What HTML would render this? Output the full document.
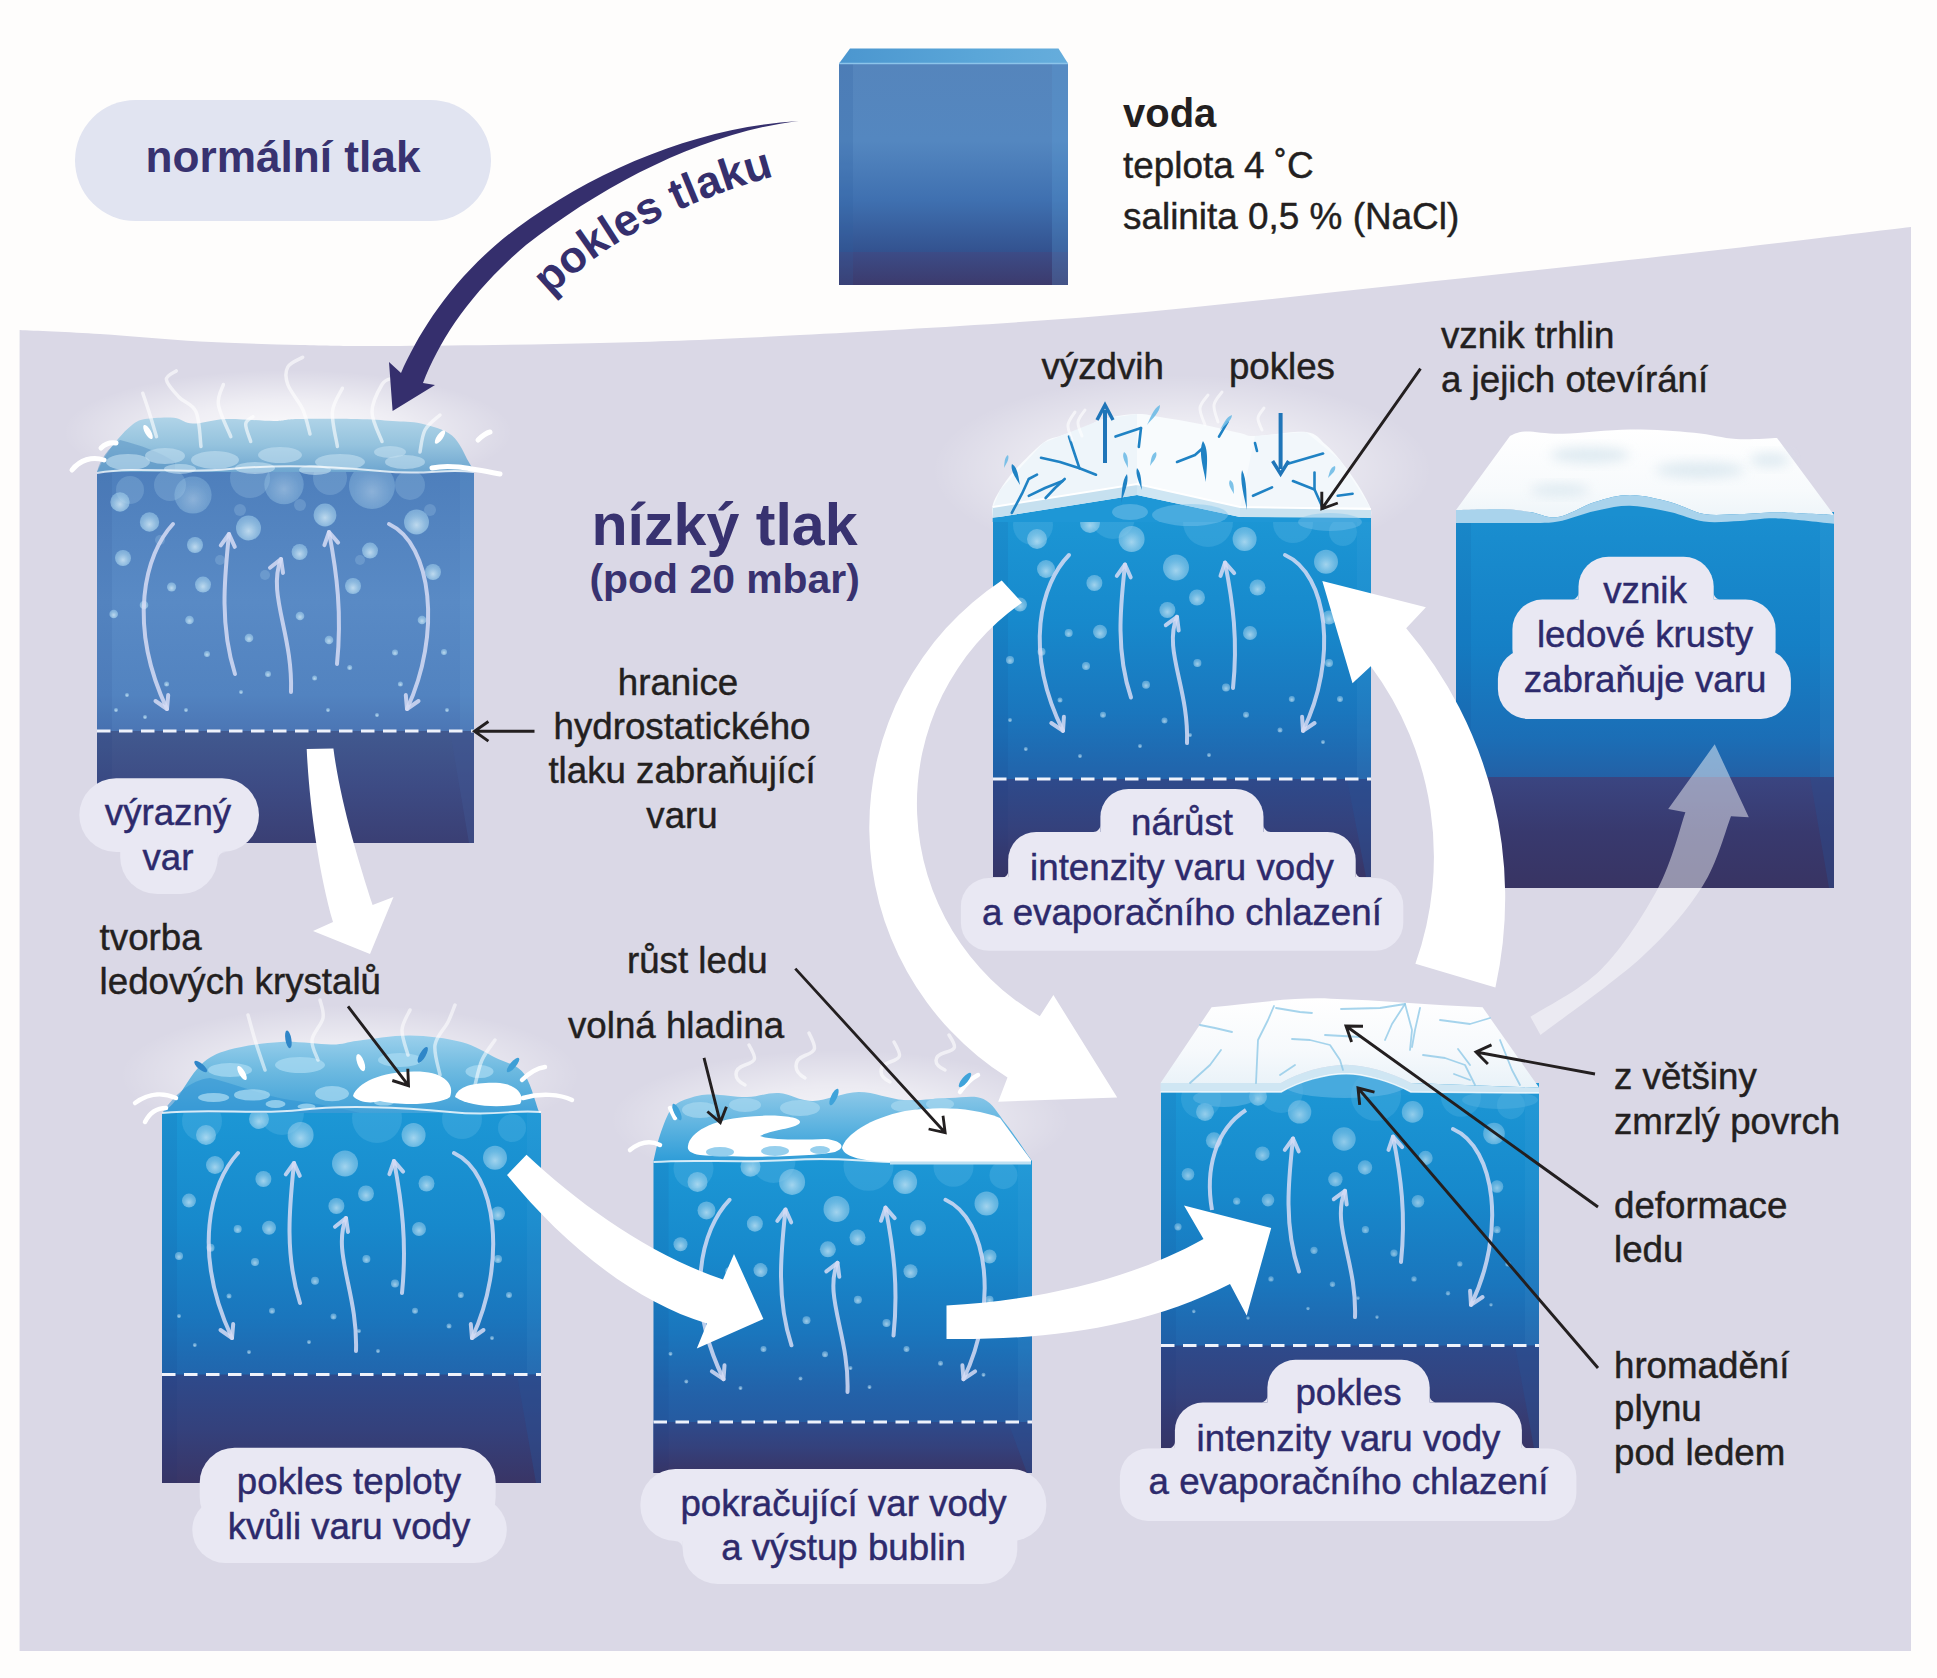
<!DOCTYPE html>
<html><head><meta charset="utf-8"><title>voda</title>
<style>html,body{margin:0;padding:0;background:#fefdfc;width:1937px;height:1678px;overflow:hidden}svg{display:block;font-family:"Liberation Sans",sans-serif}</style>
</head><body>
<svg width="1937" height="1678" viewBox="0 0 1937 1678" font-family="Liberation Sans"><defs><radialGradient id="bub" cx="0.5" cy="0.62" r="0.55"><stop offset="0" stop-color="#d8eef9" stop-opacity="0.85"/><stop offset="0.7" stop-color="#b5def3" stop-opacity="0.6"/><stop offset="1" stop-color="#a9d6f0" stop-opacity="0.55"/></radialGradient><radialGradient id="glow" cx="0.5" cy="0.5" r="0.5"><stop offset="0" stop-color="#ffffff" stop-opacity="0.95"/><stop offset="0.5" stop-color="#ffffff" stop-opacity="0.6"/><stop offset="1" stop-color="#ffffff" stop-opacity="0"/></radialGradient><linearGradient id="vodaF" x1="0" y1="0" x2="0" y2="1"><stop offset="0" stop-color="#5585bc"/><stop offset="0.35" stop-color="#5487c0"/><stop offset="0.62" stop-color="#3f70b0"/><stop offset="0.85" stop-color="#33528f"/><stop offset="1" stop-color="#3a3f74"/></linearGradient><linearGradient id="vodaB" x1="0" y1="0" x2="0" y2="1"><stop offset="0" stop-color="#3d4b86"/><stop offset="1" stop-color="#3c3a6c"/></linearGradient><linearGradient id="vodaT" x1="0" y1="0" x2="1" y2="0"><stop offset="0" stop-color="#4b96cf"/><stop offset="0.6" stop-color="#5aa6d8"/><stop offset="1" stop-color="#66addc"/></linearGradient><linearGradient id="c1F" x1="0" y1="0" x2="0" y2="1"><stop offset="0" stop-color="#4e7fbc"/><stop offset="0.35" stop-color="#598ac5"/><stop offset="0.6" stop-color="#5283c0"/><stop offset="0.72" stop-color="#4a73b2"/><stop offset="1" stop-color="#405792"/></linearGradient><linearGradient id="c1B" x1="0" y1="0" x2="0" y2="1"><stop offset="0" stop-color="#41598f"/><stop offset="0.5" stop-color="#3d4b84"/><stop offset="1" stop-color="#3a3f74"/></linearGradient><linearGradient id="surf1" x1="0" y1="0" x2="0" y2="1"><stop offset="0" stop-color="#b0d4e8"/><stop offset="0.5" stop-color="#95c3de"/><stop offset="1" stop-color="#6ea6d0"/></linearGradient><linearGradient id="c3F" x1="0" y1="0" x2="0" y2="1"><stop offset="0" stop-color="#1c97d5"/><stop offset="0.3" stop-color="#1789cc"/><stop offset="0.55" stop-color="#1a76bd"/><stop offset="0.75" stop-color="#2361a8"/><stop offset="1" stop-color="#2b4f93"/></linearGradient><linearGradient id="c3B" x1="0" y1="0" x2="0" y2="1"><stop offset="0" stop-color="#2e4a8b"/><stop offset="0.5" stop-color="#34417c"/><stop offset="1" stop-color="#393566"/></linearGradient><linearGradient id="c4F" x1="0" y1="0" x2="0" y2="1"><stop offset="0" stop-color="#1a8fd0"/><stop offset="0.35" stop-color="#1580c6"/><stop offset="0.6" stop-color="#1b6eb6"/><stop offset="0.8" stop-color="#2a5598"/><stop offset="1" stop-color="#2c4b8c"/></linearGradient><linearGradient id="c4B" x1="0" y1="0" x2="0" y2="1"><stop offset="0" stop-color="#3a4581"/><stop offset="0.5" stop-color="#38396e"/><stop offset="1" stop-color="#383463"/></linearGradient><linearGradient id="ice4g" x1="0" y1="0" x2="0" y2="1"><stop offset="0" stop-color="#ffffff"/><stop offset="0.7" stop-color="#f7fafc"/><stop offset="1" stop-color="#eef5f9"/></linearGradient><filter id="blur6" x="-50%" y="-50%" width="200%" height="200%"><feGaussianBlur stdDeviation="6"/></filter><linearGradient id="c5F" x1="0" y1="0" x2="0" y2="1"><stop offset="0" stop-color="#1c97d5"/><stop offset="0.3" stop-color="#1789cc"/><stop offset="0.55" stop-color="#1a76bd"/><stop offset="0.75" stop-color="#2361a8"/><stop offset="1" stop-color="#2b4f93"/></linearGradient><linearGradient id="c5B" x1="0" y1="0" x2="0" y2="1"><stop offset="0" stop-color="#2e4a8b"/><stop offset="0.5" stop-color="#34417c"/><stop offset="1" stop-color="#393566"/></linearGradient><linearGradient id="surf5" x1="0" y1="0" x2="0" y2="1"><stop offset="0" stop-color="#9bd0ec"/><stop offset="0.45" stop-color="#6cb9e0"/><stop offset="1" stop-color="#3fa0d8"/></linearGradient><linearGradient id="c6F" x1="0" y1="0" x2="0" y2="1"><stop offset="0" stop-color="#1c97d5"/><stop offset="0.3" stop-color="#1789cc"/><stop offset="0.55" stop-color="#1a76bd"/><stop offset="0.75" stop-color="#2361a8"/><stop offset="1" stop-color="#2b4f93"/></linearGradient><linearGradient id="c6B" x1="0" y1="0" x2="0" y2="1"><stop offset="0" stop-color="#2e4a8b"/><stop offset="0.5" stop-color="#34417c"/><stop offset="1" stop-color="#393566"/></linearGradient><linearGradient id="surf6" x1="0" y1="0" x2="0" y2="1"><stop offset="0" stop-color="#8cc8e8"/><stop offset="0.5" stop-color="#5db3e0"/><stop offset="1" stop-color="#2f9dd8"/></linearGradient><linearGradient id="c7F" x1="0" y1="0" x2="0" y2="1"><stop offset="0" stop-color="#1c97d5"/><stop offset="0.3" stop-color="#1789cc"/><stop offset="0.55" stop-color="#1a76bd"/><stop offset="0.75" stop-color="#2361a8"/><stop offset="1" stop-color="#2b4f93"/></linearGradient><linearGradient id="c7B" x1="0" y1="0" x2="0" y2="1"><stop offset="0" stop-color="#2e4a8b"/><stop offset="0.5" stop-color="#34417c"/><stop offset="1" stop-color="#393566"/></linearGradient><linearGradient id="ice7g" x1="0" y1="0" x2="0" y2="1"><stop offset="0" stop-color="#ffffff"/><stop offset="0.6" stop-color="#f6f9fc"/><stop offset="1" stop-color="#e9f2f8"/></linearGradient></defs><rect x="0" y="0" width="1937" height="1678" fill="#fefdfc"/>
<path d="M19.6,330 C33,330.7 69.9,332.1 100,334 C130.1,335.9 166.7,339.7 200,341.5 C233.3,343.3 266.7,344.2 300,345 C333.3,345.8 350,346.3 400,346 C450,345.7 533.3,344.8 600,343 C666.7,341.2 716.7,339.5 800,335 C883.3,330.5 1000,324.3 1100,316 C1200,307.7 1300,295.7 1400,285 C1500,274.3 1614.8,261.7 1700,252 C1785.2,242.3 1875.8,231.2 1911,227 L1911,1651 L19.6,1651 Z" fill="#dad8e6"/>
<rect x="75" y="100" width="416" height="121" rx="60.5" fill="#e1e4f1"/>
<text x="283" y="172" font-size="44.2" fill="#383270" text-anchor="middle" font-weight="bold">normální tlak</text>
<rect x="839" y="63" width="229" height="222" fill="url(#vodaF)"/>
<rect x="839" y="252" width="229" height="33" fill="url(#vodaB)" opacity="0.9"/>
<rect x="1052" y="63" width="16" height="222" fill="#5aa0d6" opacity="0.25"/>
<rect x="839" y="63" width="14" height="222" fill="#2f5f9f" opacity="0.2"/>
<path d="M850,48.5 L1058.5,48.5 L1068,63.5 L839,63.5 Z" fill="url(#vodaT)"/>
<line x1="839" y1="63.5" x2="1068" y2="63.5" stroke="#8cc4ea" stroke-width="1.5"/>
<text x="1123" y="127" font-size="40" fill="#231f20" text-anchor="start" font-weight="bold">voda</text>
<text x="1123" y="178" font-size="36.9" fill="#231f20" text-anchor="start" stroke="#231f20" stroke-width="0.45">teplota 4 ˚C</text>
<text x="1123" y="229" font-size="36.9" fill="#231f20" text-anchor="start" stroke="#231f20" stroke-width="0.45">salinita 0,5 % (NaCl)</text>
<ellipse cx="288" cy="432" rx="225" ry="62" fill="url(#glow)" opacity="0.95"/>
<rect x="97" y="472" width="377" height="371" fill="url(#c1F)"/>
<rect x="97" y="731" width="377" height="112" fill="url(#c1B)"/>
<rect x="97" y="472" width="15" height="371" fill="#0a2a70" opacity="0.07"/>
<rect x="460" y="472" width="14" height="259" fill="#7cc3f0" opacity="0.07"/>
<path d="M450,731 L474,731 L474,843 L469,843 Z" fill="#405792" opacity="0.45"/>
<circle cx="130" cy="490" r="14" fill="#b8daf0" opacity="0.22"/>
<circle cx="170" cy="485" r="16" fill="#b8daf0" opacity="0.22"/>
<circle cx="250" cy="478" r="20" fill="#b8daf0" opacity="0.22"/>
<circle cx="330" cy="478" r="17" fill="#b8daf0" opacity="0.22"/>
<circle cx="410" cy="485" r="15" fill="#b8daf0" opacity="0.22"/>
<circle cx="240" cy="510" r="6" fill="#b8daf0" opacity="0.22"/>
<circle cx="300" cy="505" r="6" fill="#b8daf0" opacity="0.22"/>
<circle cx="430" cy="510" r="6" fill="#b8daf0" opacity="0.22"/>
<circle cx="160" cy="540" r="5" fill="#b8daf0" opacity="0.22"/>
<circle cx="220" cy="560" r="5" fill="#b8daf0" opacity="0.22"/>
<circle cx="265" cy="575" r="5" fill="#b8daf0" opacity="0.22"/>
<circle cx="360" cy="560" r="5" fill="#b8daf0" opacity="0.22"/>
<g opacity="0.95"><circle cx="193" cy="495" r="18.6" fill="url(#bub)" opacity="0.55"/><circle cx="284" cy="484.5" r="19.7" fill="url(#bub)" opacity="0.55"/><circle cx="372" cy="486" r="23" fill="url(#bub)" opacity="0.55"/><circle cx="120" cy="502" r="9.7" fill="url(#bub)"/><circle cx="325" cy="515" r="11.4" fill="url(#bub)"/><circle cx="416.5" cy="522" r="12.5" fill="url(#bub)"/><circle cx="149.5" cy="522" r="9.7" fill="url(#bub)"/><circle cx="248.5" cy="528" r="12.5" fill="url(#bub)"/><circle cx="195" cy="545" r="8" fill="url(#bub)"/><circle cx="123" cy="558" r="8" fill="url(#bub)"/><circle cx="299.6" cy="552" r="8" fill="url(#bub)"/><circle cx="370" cy="550.6" r="8" fill="url(#bub)"/><circle cx="433" cy="572" r="8" fill="url(#bub)"/><circle cx="203" cy="584.6" r="8" fill="url(#bub)"/><circle cx="353" cy="586" r="8" fill="url(#bub)"/><circle cx="171.6" cy="587" r="4.6" fill="url(#bub)"/><circle cx="144" cy="605" r="4.3" fill="url(#bub)"/><circle cx="113.7" cy="614" r="4.3" fill="url(#bub)"/><circle cx="189.5" cy="620" r="4.3" fill="url(#bub)"/><circle cx="300" cy="616" r="4.3" fill="url(#bub)"/><circle cx="422" cy="620" r="4.3" fill="url(#bub)"/><circle cx="249" cy="638" r="4.3" fill="url(#bub)"/><circle cx="329" cy="640" r="4.3" fill="url(#bub)"/><circle cx="207" cy="654" r="3" fill="url(#bub)"/><circle cx="395" cy="652.5" r="3" fill="url(#bub)"/><circle cx="444" cy="652" r="3" fill="url(#bub)"/><circle cx="268" cy="674" r="3" fill="url(#bub)"/><circle cx="314.6" cy="678" r="2.5" fill="url(#bub)"/><circle cx="349.7" cy="667.5" r="2.5" fill="url(#bub)"/><circle cx="166.6" cy="684" r="2.5" fill="url(#bub)"/><circle cx="400.4" cy="684" r="2.5" fill="url(#bub)"/><circle cx="127" cy="695" r="2" fill="url(#bub)"/><circle cx="241" cy="692" r="2" fill="url(#bub)"/><circle cx="186" cy="710" r="2" fill="url(#bub)"/><circle cx="328" cy="710" r="2" fill="url(#bub)"/><circle cx="377" cy="715" r="2" fill="url(#bub)"/><circle cx="447" cy="710" r="2" fill="url(#bub)"/><circle cx="145" cy="717" r="2" fill="url(#bub)"/><circle cx="116" cy="710" r="2" fill="url(#bub)"/></g>
<path d="M173,524 C145,554 127,624 167,709" fill="none" stroke="#d6dcf5" stroke-width="4" stroke-linecap="round" opacity="0.85"/><path d="M155.5,701 L167,709 L168.2,695" fill="none" stroke="#d6dcf5" stroke-width="4" stroke-linecap="round" stroke-linejoin="round" opacity="0.85"/><path d="M235,674 C219,624 225,574 229,534" fill="none" stroke="#d6dcf5" stroke-width="4" stroke-linecap="round" opacity="0.85"/><path d="M234.8,546.8 L229,534 L220.8,545.4" fill="none" stroke="#d6dcf5" stroke-width="4" stroke-linecap="round" stroke-linejoin="round" opacity="0.85"/><path d="M291,692 C293,634 267,594 281,559" fill="none" stroke="#d6dcf5" stroke-width="4" stroke-linecap="round" opacity="0.85"/><path d="M283,572.9 L281,559 L270,567.7" fill="none" stroke="#d6dcf5" stroke-width="4" stroke-linecap="round" stroke-linejoin="round" opacity="0.85"/><path d="M337,664 C342,614 337,574 329,532" fill="none" stroke="#d6dcf5" stroke-width="4" stroke-linecap="round" opacity="0.85"/><path d="M338.1,542.6 L329,532 L324.4,545.2" fill="none" stroke="#d6dcf5" stroke-width="4" stroke-linecap="round" stroke-linejoin="round" opacity="0.85"/><path d="M389,524 C432,544 442,634 407,709" fill="none" stroke="#d6dcf5" stroke-width="4" stroke-linecap="round" opacity="0.85"/><path d="M405.8,695.1 L407,709 L418.5,701" fill="none" stroke="#d6dcf5" stroke-width="4" stroke-linecap="round" stroke-linejoin="round" opacity="0.85"/>
<line x1="97" y1="731" x2="474" y2="731" stroke="#eef2fb" stroke-width="2.8" stroke-dasharray="13.5 8.5"/>
<path d="M97,472 C98.5,469.2 102.5,460.5 106,455 C109.5,449.5 113.7,444 118,439 C122.3,434 127.5,428.3 132,425 C136.5,421.7 138,420.2 145,419 C152,417.8 166,416.9 174,417.7 C182,418.5 184.3,423.4 193,423.6 C201.7,423.8 212.6,419.4 226,419 C239.4,418.6 261.8,421 273.7,421 C285.6,421 283.6,419.3 297.5,419 C311.4,418.7 341.2,418.7 357,419 C372.8,419.3 381.8,420.2 392.5,421 C403.2,421.8 411.1,421.2 421,423.6 C430.9,426 444.1,429.2 452,435.5 C459.9,441.8 464.8,455.5 468.5,461.6 C472.2,467.7 473.4,470.3 474.4,472 Z" fill="url(#surf1)"/>
<path d="M97,472 C100,460 108,448 120,440 C140,445 160,452 175,462 L175,472 Z" fill="#5f97c6" opacity="0.6"/>
<ellipse cx="128" cy="462" rx="22" ry="8" fill="#c3e0f0" opacity="0.6"/>
<ellipse cx="165" cy="456" rx="20" ry="8" fill="#c3e0f0" opacity="0.6"/>
<ellipse cx="215" cy="460" rx="24" ry="9" fill="#c3e0f0" opacity="0.6"/>
<ellipse cx="280" cy="455" rx="22" ry="8" fill="#c3e0f0" opacity="0.6"/>
<ellipse cx="340" cy="462" rx="25" ry="8" fill="#c3e0f0" opacity="0.6"/>
<ellipse cx="405" cy="462" rx="20" ry="7" fill="#c3e0f0" opacity="0.6"/>
<ellipse cx="180" cy="469" rx="16" ry="5" fill="#c3e0f0" opacity="0.6"/>
<ellipse cx="255" cy="468" rx="20" ry="6" fill="#c3e0f0" opacity="0.6"/>
<ellipse cx="315" cy="470" rx="16" ry="5" fill="#c3e0f0" opacity="0.6"/>
<ellipse cx="390" cy="452" rx="16" ry="6" fill="#c3e0f0" opacity="0.6"/>
<path d="M97,473 C140,466 180,474 230,469 S330,466 380,471 S440,468 474,472" fill="none" stroke="#ffffff" stroke-width="2" opacity="0.75"/>
<path d="M156.5,436.6 C155.2,432.5 151.3,419 149,411.8 C146.7,404.6 143.8,396.3 142.8,393.2" fill="none" stroke="#ffffff" stroke-width="3.5" stroke-linecap="round" opacity="0.6"/>
<path d="M201,446.5 C200.2,440.7 199.7,420.1 196,411.8 C192.3,403.6 183.7,402.4 178.8,397 C173.9,391.6 166.8,384 166.4,379.6 C166,375.2 174.7,372.3 176.3,370.9" fill="none" stroke="#ffffff" stroke-width="3.5" stroke-linecap="round" opacity="0.6"/>
<path d="M230.8,436.6 C228.7,431.2 219.6,413.1 218.4,404.4 C217.2,395.7 222.6,387.8 223.4,384.5" fill="none" stroke="#ffffff" stroke-width="3.5" stroke-linecap="round" opacity="0.6"/>
<path d="M310,434 C308.8,429.9 306.4,417.6 302.7,409.3 C299,401.1 290.3,391.6 287.8,384.5 C285.3,377.4 285.3,371.5 287.8,367 C290.3,362.5 300.2,358.9 302.7,357.3" fill="none" stroke="#ffffff" stroke-width="3.5" stroke-linecap="round" opacity="0.6"/>
<path d="M337.4,446.5 C336.6,440.7 331.6,421.5 332.4,411.8 C333.2,402.1 340.7,392.1 342.4,388.2" fill="none" stroke="#ffffff" stroke-width="3.5" stroke-linecap="round" opacity="0.6"/>
<path d="M382,441.5 C380.3,436.6 372,421.3 372,411.8 C372,402.3 378.7,390.1 382,384.5 C385.3,378.9 390.3,379.3 392,378.3" fill="none" stroke="#ffffff" stroke-width="3.5" stroke-linecap="round" opacity="0.6"/>
<path d="M250.7,441.5 C249.9,438.6 245.3,428.1 245.7,424 C246.1,419.9 251.8,417.9 253,416.7" fill="none" stroke="#ffffff" stroke-width="3.5" stroke-linecap="round" opacity="0.6"/>
<path d="M420,452 C420.8,448.3 421.7,436.2 425,430 C428.3,423.8 437.5,417.5 440,415" fill="none" stroke="#ffffff" stroke-width="3.5" stroke-linecap="round" opacity="0.6"/>
<path d="M72,470 C80,460 92,456 104,460" fill="none" stroke="#ffffff" stroke-width="5" stroke-linecap="round"/>
<path d="M432,468 C450,464 468,468 500,474" fill="none" stroke="#ffffff" stroke-width="5" stroke-linecap="round"/>
<path d="M101,448 C105,444 110,442 116,443" fill="none" stroke="#ffffff" stroke-width="5" stroke-linecap="round"/>
<path d="M478,440 C482,436 486,433 490,432" fill="none" stroke="#ffffff" stroke-width="5" stroke-linecap="round"/>
<ellipse cx="148" cy="432" rx="3" ry="8" fill="#ffffff" transform="rotate(-30 148 432)"/>
<ellipse cx="440" cy="437" rx="3" ry="8" fill="#ffffff" transform="rotate(35 440 437)"/>
<ellipse cx="1182" cy="470" rx="250" ry="95" fill="url(#glow)" opacity="0.85"/>
<rect x="993" y="512" width="378" height="365" fill="url(#c3F)"/>
<rect x="993" y="779" width="378" height="98" fill="url(#c3B)"/>
<rect x="993" y="512" width="15" height="365" fill="#0a2a70" opacity="0.07"/>
<rect x="1357" y="512" width="14" height="267" fill="#7cc3f0" opacity="0.07"/>
<path d="M1347,779 L1371,779 L1371,877 L1366,877 Z" fill="#2b4f93" opacity="0.45"/>
<g opacity="0.85"><circle cx="1033" cy="525" r="20" fill="#8fd0f2" opacity="0.22"/><circle cx="1113" cy="517" r="22" fill="#8fd0f2" opacity="0.22"/><circle cx="1208" cy="522" r="25" fill="#8fd0f2" opacity="0.22"/><circle cx="1293" cy="523" r="20" fill="#8fd0f2" opacity="0.22"/><circle cx="1343" cy="532" r="14" fill="#8fd0f2" opacity="0.22"/><circle cx="1090" cy="523" r="10" fill="url(#bub)"/><circle cx="1037" cy="539" r="10" fill="url(#bub)"/><circle cx="1131.6" cy="539" r="13" fill="url(#bub)"/><circle cx="1244.6" cy="539" r="12" fill="url(#bub)"/><circle cx="1046" cy="569" r="9" fill="url(#bub)"/><circle cx="1176" cy="567.5" r="13" fill="url(#bub)"/><circle cx="1326" cy="561.7" r="12" fill="url(#bub)"/><circle cx="1094.4" cy="583" r="8" fill="url(#bub)"/><circle cx="1257.5" cy="587.5" r="8" fill="url(#bub)"/><circle cx="1197" cy="597.5" r="8" fill="url(#bub)"/><circle cx="1167.4" cy="610" r="8" fill="url(#bub)"/><circle cx="1020" cy="604.6" r="7" fill="url(#bub)"/><circle cx="1329" cy="617.5" r="7" fill="url(#bub)"/><circle cx="1100" cy="631.8" r="7" fill="url(#bub)"/><circle cx="1250" cy="633" r="7" fill="url(#bub)"/><circle cx="1068.7" cy="633" r="4" fill="url(#bub)"/><circle cx="1041.5" cy="651.8" r="4" fill="url(#bub)"/><circle cx="1010" cy="660" r="4" fill="url(#bub)"/><circle cx="1086" cy="666" r="4" fill="url(#bub)"/><circle cx="1197.4" cy="663" r="4" fill="url(#bub)"/><circle cx="1329" cy="663" r="4" fill="url(#bub)"/><circle cx="1146" cy="684.7" r="4" fill="url(#bub)"/><circle cx="1226" cy="687.6" r="4" fill="url(#bub)"/><circle cx="1291.8" cy="699" r="3" fill="url(#bub)"/><circle cx="1340" cy="699" r="3" fill="url(#bub)"/><circle cx="1103" cy="714.8" r="3" fill="url(#bub)"/><circle cx="1164.5" cy="720.5" r="3" fill="url(#bub)"/><circle cx="1246" cy="714.8" r="3" fill="url(#bub)"/><circle cx="1025.8" cy="749" r="2" fill="url(#bub)"/><circle cx="1080" cy="756" r="2" fill="url(#bub)"/><circle cx="1140" cy="746" r="2" fill="url(#bub)"/><circle cx="1209" cy="755" r="2" fill="url(#bub)"/><circle cx="1323" cy="742" r="2" fill="url(#bub)"/><circle cx="1060" cy="700" r="2.5" fill="url(#bub)"/><circle cx="1280" cy="730" r="2.5" fill="url(#bub)"/><circle cx="1190" cy="735" r="2" fill="url(#bub)"/><circle cx="1010" cy="720" r="2" fill="url(#bub)"/></g>
<path d="M1069,555 C1041,583.5 1023,650 1063,730.8" fill="none" stroke="#d6dcf5" stroke-width="4" stroke-linecap="round" opacity="0.85"/><path d="M1051.3,723 L1063,730.8 L1063.9,716.8" fill="none" stroke="#d6dcf5" stroke-width="4" stroke-linecap="round" stroke-linejoin="round" opacity="0.85"/><path d="M1131,697.5 C1115,650 1121,602.5 1125,564.5" fill="none" stroke="#d6dcf5" stroke-width="4" stroke-linecap="round" opacity="0.85"/><path d="M1130.7,577.3 L1125,564.5 L1116.8,575.8" fill="none" stroke="#d6dcf5" stroke-width="4" stroke-linecap="round" stroke-linejoin="round" opacity="0.85"/><path d="M1187,743.1 C1189,688 1163,650 1177,616.8" fill="none" stroke="#d6dcf5" stroke-width="4" stroke-linecap="round" opacity="0.85"/><path d="M1178.7,630.6 L1177,616.8 L1165.8,625.2" fill="none" stroke="#d6dcf5" stroke-width="4" stroke-linecap="round" stroke-linejoin="round" opacity="0.85"/><path d="M1233,688 C1238,640.5 1233,602.5 1225,562.6" fill="none" stroke="#d6dcf5" stroke-width="4" stroke-linecap="round" opacity="0.85"/><path d="M1234.2,573.1 L1225,562.6 L1220.5,575.9" fill="none" stroke="#d6dcf5" stroke-width="4" stroke-linecap="round" stroke-linejoin="round" opacity="0.85"/><path d="M1285,555 C1328,574 1338,659.5 1303,730.8" fill="none" stroke="#d6dcf5" stroke-width="4" stroke-linecap="round" opacity="0.85"/><path d="M1302.1,716.8 L1303,730.8 L1314.6,723" fill="none" stroke="#d6dcf5" stroke-width="4" stroke-linecap="round" stroke-linejoin="round" opacity="0.85"/>
<line x1="993" y1="779" x2="1371" y2="779" stroke="#eef2fb" stroke-width="2.8" stroke-dasharray="13.5 8.5"/>
<path d="M992.7,517 C992.7,515 991.5,509.5 992.7,505 C993.9,500.5 996.3,495.8 1000,490 C1003.7,484.2 1007.8,477.8 1015,470 C1022.2,462.2 1035.5,448.7 1043,443 C1050.5,437.3 1053,438.5 1060,436 C1067,433.5 1077.8,430.8 1085,428 C1092.2,425.2 1094.3,421.3 1103,419 C1111.7,416.7 1127.5,414.3 1137,414 C1146.5,413.7 1149.5,415.3 1160,417 C1170.5,418.7 1186.7,421.3 1200,424 C1213.3,426.7 1230.8,431 1240,433 C1249.2,435 1244,436.2 1255,436 C1266,435.8 1294.3,430.7 1306,432 C1317.7,433.3 1319.3,439.3 1325,444 C1330.7,448.7 1334.5,453.2 1340,460 C1345.5,466.8 1353,477.2 1358,485 C1363,492.8 1367.8,501.7 1370,507 C1372.2,512.3 1370.8,515.3 1371,517 Z" fill="#f8fbfd"/>
<path d="M1043,443 L1103,419 L1137,414 L1137,485 L992.7,508 L1000,490 Z" fill="#eef5fa"/>
<path d="M1255,436 L1306,432 L1340,460 L1370,507 L1240,508 Z" fill="#f2f7fb"/>
<path d="M992.7,518 L1137,495 L1240,517 L1371,518 L1371,522 L992.7,522 Z" fill="#1e97d6"/>
<path d="M992.7,507 L1137,484 L1137,495 L992.7,518 Z" fill="#c6e0ef"/>
<path d="M1137,484 L1240,507 L1240,517 L1137,495 Z" fill="#cfe6f3"/>
<path d="M1240,507 L1371,509 L1371,518 L1240,517 Z" fill="#c9e2f0"/>
<path d="M992.7,507 L1137,484 L1240,507 L1371,509" fill="none" stroke="#ffffff" stroke-width="2"/>
<ellipse cx="1130" cy="512" rx="18" ry="8" fill="#7cc4ea" opacity="0.5"/>
<ellipse cx="1190" cy="515" rx="38" ry="11" fill="#7cc4ea" opacity="0.45"/>
<ellipse cx="1330" cy="522" rx="32" ry="9" fill="#7cc4ea" opacity="0.4"/>
<path d="M1011.8,512.8 L1022,493.7 L1028.7,479 L1037,474.7" fill="none" stroke="#1f82c4" stroke-width="2.6" stroke-linecap="round" stroke-linejoin="round"/>
<path d="M1028.7,495.8 L1045,488 L1062.6,481" fill="none" stroke="#1f82c4" stroke-width="2.6" stroke-linecap="round" stroke-linejoin="round"/>
<path d="M1045.6,498 L1055,488 L1064.7,479" fill="none" stroke="#1f82c4" stroke-width="2.6" stroke-linecap="round" stroke-linejoin="round"/>
<path d="M1041,457.7 L1060,462 L1079.5,468.3" fill="none" stroke="#1f82c4" stroke-width="2.6" stroke-linecap="round" stroke-linejoin="round"/>
<path d="M1069,436.6 L1073,449 L1079.5,468.3 L1096,474.7" fill="none" stroke="#1f82c4" stroke-width="2.6" stroke-linecap="round" stroke-linejoin="round"/>
<path d="M1115.5,436.6 L1141,428" fill="none" stroke="#1f82c4" stroke-width="2.6" stroke-linecap="round" stroke-linejoin="round"/>
<path d="M1141,428 L1138.8,447" fill="none" stroke="#1f82c4" stroke-width="2.6" stroke-linecap="round" stroke-linejoin="round"/>
<path d="M1177,462 L1195,455 L1204,447" fill="none" stroke="#1f82c4" stroke-width="2.6" stroke-linecap="round" stroke-linejoin="round"/>
<path d="M1219,436.6 L1227.6,421.8" fill="none" stroke="#1f82c4" stroke-width="2.6" stroke-linecap="round" stroke-linejoin="round"/>
<path d="M1255,443 L1257,451" fill="none" stroke="#1f82c4" stroke-width="2.6" stroke-linecap="round" stroke-linejoin="round"/>
<path d="M1253,495.8 L1272,487.4" fill="none" stroke="#1f82c4" stroke-width="2.6" stroke-linecap="round" stroke-linejoin="round"/>
<path d="M1287,464 L1323,453.5" fill="none" stroke="#1f82c4" stroke-width="2.6" stroke-linecap="round" stroke-linejoin="round"/>
<path d="M1293,481 L1314.5,489.5 L1323,508.5" fill="none" stroke="#1f82c4" stroke-width="2.6" stroke-linecap="round" stroke-linejoin="round"/>
<path d="M1314.5,489.5 L1314.5,472.6" fill="none" stroke="#1f82c4" stroke-width="2.6" stroke-linecap="round" stroke-linejoin="round"/>
<path d="M1337.7,495.8 L1352.6,493.7" fill="none" stroke="#1f82c4" stroke-width="2.6" stroke-linecap="round" stroke-linejoin="round"/>
<path d="M0,0 C6.7,-0.9 16.9,-4.5 22.5,0 C16.9,4.5 6.7,0.9 0,0 Z" fill="#1f82c4" opacity="1.0" transform="translate(1020,485) rotate(-110.9)"/>
<path d="M0,0 C8.9,-0.8 22.2,-4 29.6,0 C22.2,4 8.9,0.8 0,0 Z" fill="#1f82c4" opacity="1.0" transform="translate(1121,503) rotate(-78.3)"/>
<path d="M0,0 C6.8,-0.7 16.9,-3.5 22.6,0 C16.9,3.5 6.8,0.7 0,0 Z" fill="#1f82c4" opacity="1.0" transform="translate(1142,490) rotate(-102.8)"/>
<path d="M0,0 C12.3,-1.2 30.8,-6 41.1,0 C30.8,6 12.3,1.2 0,0 Z" fill="#1f82c4" opacity="1.0" transform="translate(1206,482) rotate(-94.2)"/>
<path d="M0,0 C12.1,-0.8 30.2,-4 40.3,0 C30.2,4 12.1,0.8 0,0 Z" fill="#1f82c4" opacity="1.0" transform="translate(1247,510) rotate(-97.1)"/>
<path d="M0,0 C4.9,-0.8 12.4,-4 16.5,0 C12.4,4 4.9,0.8 0,0 Z" fill="#6fbbe6" opacity="0.9" transform="translate(1128,468) rotate(-104)"/>
<path d="M0,0 C4.6,-0.8 11.4,-4 15.2,0 C11.4,4 4.6,0.8 0,0 Z" fill="#6fbbe6" opacity="0.9" transform="translate(1150,466) rotate(-66.8)"/>
<path d="M0,0 C7.2,-0.8 17.9,-4 23.9,0 C17.9,4 7.2,0.8 0,0 Z" fill="#6fbbe6" opacity="0.9" transform="translate(1147,425) rotate(-57)"/>
<path d="M0,0 C4.4,-0.8 10.9,-4 14.6,0 C10.9,4 4.4,0.8 0,0 Z" fill="#6fbbe6" opacity="0.9" transform="translate(1234,494) rotate(-105.9)"/>
<path d="M0,0 C4.2,-0.8 10.4,-4 13.9,0 C10.4,4 4.2,0.8 0,0 Z" fill="#6fbbe6" opacity="0.9" transform="translate(1328,478) rotate(-59.7)"/>
<path d="M0,0 C5.8,-0.7 14.4,-3.5 19.2,0 C14.4,3.5 5.8,0.7 0,0 Z" fill="#6fbbe6" opacity="0.9" transform="translate(1220,430) rotate(-51.3)"/>
<path d="M0,0 C4.1,-0.6 10.2,-3 13.6,0 C10.2,3 4.1,0.6 0,0 Z" fill="#6fbbe6" opacity="0.9" transform="translate(1004,468) rotate(-72.9)"/>
<path d="M1105,463 L1105,410" stroke="#1f75b8" stroke-width="4"/><path d="M1097,420 L1105,405 L1113,420" fill="none" stroke="#1f75b8" stroke-width="3.5"/>
<path d="M1280.6,413 L1280.6,469" stroke="#1f75b8" stroke-width="4"/><path d="M1272.6,461 L1280.6,474 L1288.6,461" fill="none" stroke="#1f75b8" stroke-width="3.5"/>
<path d="M1072,440 C1071.3,437.5 1067.5,429.7 1068,425 C1068.5,420.3 1073.8,414.2 1075,412" fill="none" stroke="#ffffff" stroke-width="3" stroke-linecap="round" opacity="0.6"/>
<path d="M1082,436 C1081.3,433.7 1077.5,426.3 1078,422 C1078.5,417.7 1083.8,412 1085,410" fill="none" stroke="#ffffff" stroke-width="3" stroke-linecap="round" opacity="0.6"/>
<path d="M1205,425 C1204.2,422.2 1199.5,413 1200,408 C1200.5,403 1206.7,397.2 1208,395" fill="none" stroke="#ffffff" stroke-width="3" stroke-linecap="round" opacity="0.6"/>
<path d="M1218,422 C1217.3,419.2 1213.3,410 1214,405 C1214.7,400 1220.7,394.2 1222,392" fill="none" stroke="#ffffff" stroke-width="3" stroke-linecap="round" opacity="0.6"/>
<path d="M1262,430 C1261.3,428 1257.7,421.7 1258,418 C1258.3,414.3 1263,409.7 1264,408" fill="none" stroke="#ffffff" stroke-width="3" stroke-linecap="round" opacity="0.6"/>
<rect x="1456" y="512" width="378" height="376" fill="url(#c4F)"/>
<rect x="1456" y="777" width="378" height="111" fill="url(#c4B)"/>
<rect x="1456" y="512" width="15" height="376" fill="#0a2a70" opacity="0.07"/>
<rect x="1820" y="512" width="14" height="265" fill="#7cc3f0" opacity="0.07"/>
<path d="M1810,777 L1834,777 L1834,888 L1829,888 Z" fill="#2c4b8c" opacity="0.45"/>
<path d="M1550,516 C1590,500 1610,494 1630,494 C1655,494 1680,505 1712,516 Z" fill="#1a8fd0"/>
<path d="M1456,510 C1463.8,509.8 1490.7,508.7 1503,509 C1515.3,509.3 1520.8,510.7 1530,512 C1539.2,513.3 1547.2,518.7 1558,517 C1568.8,515.3 1583,505.7 1595,502 C1607,498.3 1617.5,495 1630,495 C1642.5,495 1657.7,498.8 1670,502 C1682.3,505.2 1692.3,512 1704,514 C1715.7,516 1727.7,514.2 1740,514 C1752.3,513.8 1762.3,512.3 1778,512.5 C1793.7,512.7 1824.7,514.6 1834,515 L1777,438  C1770.2,438.2 1749.8,439.9 1736,439 C1722.2,438.1 1711.7,434.3 1694,432.7 C1676.3,431.1 1651.8,429.3 1630,429.5 C1608.2,429.7 1580.5,433.4 1563,433.8 C1545.5,434.2 1533.8,431.2 1525,431.6 C1516.2,432 1512.5,435.3 1510,436 Z" fill="url(#ice4g)"/>
<ellipse cx="1590" cy="455" rx="40" ry="8" fill="#d3e3ec" opacity="0.7" filter="url(#blur6)"/>
<ellipse cx="1700" cy="470" rx="45" ry="8" fill="#d3e3ec" opacity="0.7" filter="url(#blur6)"/>
<ellipse cx="1770" cy="460" rx="20" ry="7" fill="#d3e3ec" opacity="0.7" filter="url(#blur6)"/>
<ellipse cx="1560" cy="490" rx="30" ry="6" fill="#d3e3ec" opacity="0.7" filter="url(#blur6)"/>
<path d="M1456,510 C1463.8,509.8 1490.7,508.7 1503,509 C1515.3,509.3 1520.8,510.7 1530,512 C1539.2,513.3 1547.2,518.7 1558,517 C1568.8,515.3 1583,505.7 1595,502 C1607,498.3 1617.5,495 1630,495 C1642.5,495 1657.7,498.8 1670,502 C1682.3,505.2 1692.3,512 1704,514 C1715.7,516 1727.7,514.2 1740,514 C1752.3,513.8 1762.3,512.3 1778,512.5 C1793.7,512.7 1824.7,514.6 1834,515 L1834,523.7 C1824.7,522.8 1793.7,518.9 1778,518.4 C1762.3,517.9 1752.3,520.5 1740,521 C1727.7,521.5 1715.7,523.1 1704,521.6 C1692.3,520.1 1682.3,514.6 1670,512 C1657.7,509.4 1642.5,505.9 1630,505.7 C1617.5,505.5 1607,508.4 1595,511 C1583,513.6 1568.8,519.6 1558,521.6 C1547.2,523.6 1539.2,522.8 1530,523 C1520.8,523.2 1515.3,523 1503,523 C1490.7,523 1463.8,523 1456,523 Z" fill="#a9d3ec"/>
<ellipse cx="350" cy="1075" rx="230" ry="70" fill="url(#glow)" opacity="0.8"/>
<rect x="162" y="1113" width="379" height="370" fill="url(#c5F)"/>
<rect x="162" y="1374.5" width="379" height="108.5" fill="url(#c5B)"/>
<rect x="162" y="1113" width="15" height="370" fill="#0a2a70" opacity="0.07"/>
<rect x="527" y="1113" width="14" height="261.5" fill="#7cc3f0" opacity="0.07"/>
<path d="M517,1374.5 L541,1374.5 L541,1483 L536,1483 Z" fill="#2b4f93" opacity="0.45"/>
<g opacity="0.85"><circle cx="202" cy="1121" r="20" fill="#8fd0f2" opacity="0.22"/><circle cx="282" cy="1113" r="22" fill="#8fd0f2" opacity="0.22"/><circle cx="377" cy="1118" r="25" fill="#8fd0f2" opacity="0.22"/><circle cx="462" cy="1119" r="20" fill="#8fd0f2" opacity="0.22"/><circle cx="512" cy="1128" r="14" fill="#8fd0f2" opacity="0.22"/><circle cx="259" cy="1119" r="10" fill="url(#bub)"/><circle cx="206" cy="1135" r="10" fill="url(#bub)"/><circle cx="300.6" cy="1135" r="13" fill="url(#bub)"/><circle cx="413.6" cy="1135" r="12" fill="url(#bub)"/><circle cx="215" cy="1165" r="9" fill="url(#bub)"/><circle cx="345" cy="1163.5" r="13" fill="url(#bub)"/><circle cx="495" cy="1157.7" r="12" fill="url(#bub)"/><circle cx="263.4" cy="1179" r="8" fill="url(#bub)"/><circle cx="426.5" cy="1183.5" r="8" fill="url(#bub)"/><circle cx="366" cy="1193.5" r="8" fill="url(#bub)"/><circle cx="336.4" cy="1206" r="8" fill="url(#bub)"/><circle cx="189" cy="1200.6" r="7" fill="url(#bub)"/><circle cx="498" cy="1213.5" r="7" fill="url(#bub)"/><circle cx="269" cy="1227.8" r="7" fill="url(#bub)"/><circle cx="419" cy="1229" r="7" fill="url(#bub)"/><circle cx="237.7" cy="1229" r="4" fill="url(#bub)"/><circle cx="210.5" cy="1247.8" r="4" fill="url(#bub)"/><circle cx="179" cy="1256" r="4" fill="url(#bub)"/><circle cx="255" cy="1262" r="4" fill="url(#bub)"/><circle cx="366.4" cy="1259" r="4" fill="url(#bub)"/><circle cx="498" cy="1259" r="4" fill="url(#bub)"/><circle cx="315" cy="1280.7" r="4" fill="url(#bub)"/><circle cx="395" cy="1283.6" r="4" fill="url(#bub)"/><circle cx="460.8" cy="1295" r="3" fill="url(#bub)"/><circle cx="509" cy="1295" r="3" fill="url(#bub)"/><circle cx="272" cy="1310.8" r="3" fill="url(#bub)"/><circle cx="333.5" cy="1316.5" r="3" fill="url(#bub)"/><circle cx="415" cy="1310.8" r="3" fill="url(#bub)"/><circle cx="194.8" cy="1345" r="2" fill="url(#bub)"/><circle cx="249" cy="1352" r="2" fill="url(#bub)"/><circle cx="309" cy="1342" r="2" fill="url(#bub)"/><circle cx="378" cy="1351" r="2" fill="url(#bub)"/><circle cx="492" cy="1338" r="2" fill="url(#bub)"/><circle cx="229" cy="1296" r="2.5" fill="url(#bub)"/><circle cx="449" cy="1326" r="2.5" fill="url(#bub)"/><circle cx="359" cy="1331" r="2" fill="url(#bub)"/><circle cx="179" cy="1316" r="2" fill="url(#bub)"/></g>
<path d="M238,1153 C210,1183 192,1253 232,1338" fill="none" stroke="#d6dcf5" stroke-width="4" stroke-linecap="round" opacity="0.85"/><path d="M220.5,1330 L232,1338 L233.2,1324" fill="none" stroke="#d6dcf5" stroke-width="4" stroke-linecap="round" stroke-linejoin="round" opacity="0.85"/><path d="M300,1303 C284,1253 290,1203 294,1163" fill="none" stroke="#d6dcf5" stroke-width="4" stroke-linecap="round" opacity="0.85"/><path d="M299.8,1175.8 L294,1163 L285.8,1174.4" fill="none" stroke="#d6dcf5" stroke-width="4" stroke-linecap="round" stroke-linejoin="round" opacity="0.85"/><path d="M356,1351 C358,1293 332,1253 346,1218" fill="none" stroke="#d6dcf5" stroke-width="4" stroke-linecap="round" opacity="0.85"/><path d="M348,1231.9 L346,1218 L335,1226.7" fill="none" stroke="#d6dcf5" stroke-width="4" stroke-linecap="round" stroke-linejoin="round" opacity="0.85"/><path d="M402,1293 C407,1243 402,1203 394,1161" fill="none" stroke="#d6dcf5" stroke-width="4" stroke-linecap="round" opacity="0.85"/><path d="M403.1,1171.6 L394,1161 L389.4,1174.2" fill="none" stroke="#d6dcf5" stroke-width="4" stroke-linecap="round" stroke-linejoin="round" opacity="0.85"/><path d="M454,1153 C497,1173 507,1263 472,1338" fill="none" stroke="#d6dcf5" stroke-width="4" stroke-linecap="round" opacity="0.85"/><path d="M470.8,1324.1 L472,1338 L483.5,1330" fill="none" stroke="#d6dcf5" stroke-width="4" stroke-linecap="round" stroke-linejoin="round" opacity="0.85"/>
<line x1="162" y1="1374.5" x2="541" y2="1374.5" stroke="#eef2fb" stroke-width="2.8" stroke-dasharray="13.5 8.5"/>
<path d="M162,1113 C164.2,1111 168.6,1109 175,1101 C181.4,1093 191.7,1073.5 200.7,1065 C209.7,1056.5 215.7,1053.5 229,1049.7 C242.3,1045.9 263.5,1042.9 280.7,1042 C297.9,1041.1 319.1,1044.7 332,1044.5 C344.9,1044.3 345,1042.2 358,1040.7 C371,1039.2 392.8,1035.3 410,1035.5 C427.2,1035.7 447.2,1038.3 461.4,1042 C475.6,1045.7 484.7,1052.2 495,1057.4 C505.3,1062.6 516.1,1064 523.4,1073 C530.7,1082 536.1,1105 539,1111.7 C541.9,1118.4 540.7,1112.8 541,1113 Z" fill="url(#surf5)"/>
<path d="M162,1113 C175,1095 190,1080 210,1078 C240,1085 260,1095 290,1100 C320,1104 340,1108 360,1113 Z" fill="#2f93d3" opacity="0.55"/>
<ellipse cx="213.6" cy="1097.5" rx="15.5" ry="4.6" fill="#a8d9f1" opacity="0.75"/>
<ellipse cx="252" cy="1094.9" rx="18" ry="5.7" fill="#a8d9f1" opacity="0.75"/>
<ellipse cx="275.5" cy="1104" rx="10" ry="4" fill="#a8d9f1" opacity="0.75"/>
<ellipse cx="332" cy="1093.6" rx="17" ry="7.7" fill="#a8d9f1" opacity="0.75"/>
<ellipse cx="306.5" cy="1106.5" rx="9" ry="3" fill="#a8d9f1" opacity="0.75"/>
<ellipse cx="384" cy="1102.6" rx="10" ry="3" fill="#a8d9f1" opacity="0.75"/>
<ellipse cx="479.5" cy="1071.6" rx="14" ry="6.5" fill="#a8d9f1" opacity="0.75"/>
<ellipse cx="471.7" cy="1091" rx="10" ry="3.6" fill="#a8d9f1" opacity="0.75"/>
<ellipse cx="230" cy="1070" rx="22" ry="7" fill="#a8d9f1" opacity="0.75"/>
<ellipse cx="300" cy="1065" rx="25" ry="8" fill="#a8d9f1" opacity="0.75"/>
<ellipse cx="400" cy="1060" rx="22" ry="7" fill="#a8d9f1" opacity="0.75"/>
<path d="M353,1096 C357,1082 385,1070 420,1071.6 C445,1073 455,1085 450,1097 C440,1105 400,1106 380,1101 C370,1104 358,1102 353,1096 Z" fill="#ffffff"/>
<path d="M455,1097 C458,1085 478,1082 500,1083 C518,1085 525,1096 520,1104 C500,1108 470,1107 455,1097 Z" fill="#ffffff"/>
<path d="M162,1113 C210,1108 260,1115 300,1110 S400,1107 450,1112 S510,1109 541,1112" fill="none" stroke="#ffffff" stroke-width="2" opacity="0.8"/>
<path d="M265,1070 C263.3,1065 257.8,1049.2 255,1040 C252.2,1030.8 249.2,1019.2 248,1015" fill="none" stroke="#ffffff" stroke-width="3.5" stroke-linecap="round" opacity="0.55"/>
<path d="M318,1060 C317,1056.7 311.2,1047 312,1040 C312.8,1033 321.7,1024.7 323,1018 C324.3,1011.3 320.5,1003 320,1000" fill="none" stroke="#ffffff" stroke-width="3.5" stroke-linecap="round" opacity="0.55"/>
<path d="M408,1055 C407,1050.8 401.7,1037.5 402,1030 C402.3,1022.5 408.7,1013.3 410,1010" fill="none" stroke="#ffffff" stroke-width="3.5" stroke-linecap="round" opacity="0.55"/>
<path d="M440,1075 C439.2,1070 433.7,1053.8 435,1045 C436.3,1036.2 444.7,1028.7 448,1022 C451.3,1015.3 453.8,1007.8 455,1005" fill="none" stroke="#ffffff" stroke-width="3.5" stroke-linecap="round" opacity="0.55"/>
<path d="M475,1085 C476.2,1080.8 478.7,1067.5 482,1060 C485.3,1052.5 492.8,1043.3 495,1040" fill="none" stroke="#ffffff" stroke-width="3.5" stroke-linecap="round" opacity="0.55"/>
<path d="M135,1103 C150,1092 165,1093 176,1098" fill="none" stroke="#ffffff" stroke-width="4.5" stroke-linecap="round"/>
<path d="M145,1122 C150,1112 158,1108 166,1108" fill="none" stroke="#ffffff" stroke-width="4.5" stroke-linecap="round"/>
<path d="M523,1098 C540,1093 560,1094 572,1100" fill="none" stroke="#ffffff" stroke-width="4.5" stroke-linecap="round"/>
<path d="M522,1080 C530,1072 538,1068 545,1067" fill="none" stroke="#ffffff" stroke-width="4.5" stroke-linecap="round"/>
<ellipse cx="288.4" cy="1039.4" rx="3" ry="9" fill="#2f86c8" transform="rotate(-10 288.4 1039.4)"/>
<ellipse cx="422.7" cy="1054.9" rx="3" ry="9" fill="#2f86c8" transform="rotate(30 422.7 1054.9)"/>
<ellipse cx="200.7" cy="1066.5" rx="3" ry="8" fill="#2f86c8" transform="rotate(-50 200.7 1066.5)"/>
<ellipse cx="513" cy="1065" rx="3" ry="9" fill="#3f9fd6" transform="rotate(40 513 1065)"/>
<ellipse cx="360.7" cy="1062.6" rx="3.5" ry="9" fill="#ffffff" transform="rotate(-20 360.7 1062.6)"/>
<ellipse cx="242" cy="1073" rx="3" ry="8" fill="#ffffff" transform="rotate(-30 242 1073)"/>
<ellipse cx="840" cy="1120" rx="230" ry="70" fill="url(#glow)" opacity="0.8"/>
<rect x="653.5" y="1161" width="378.5" height="312" fill="url(#c6F)"/>
<rect x="653.5" y="1422" width="378.5" height="51" fill="url(#c6B)"/>
<rect x="653.5" y="1161" width="15" height="312" fill="#0a2a70" opacity="0.07"/>
<rect x="1018" y="1161" width="14" height="261" fill="#7cc3f0" opacity="0.07"/>
<path d="M1008,1422 L1032,1422 L1032,1473 L1027,1473 Z" fill="#2b4f93" opacity="0.45"/>
<g opacity="0.85"><circle cx="693.5" cy="1168.6" r="20" fill="#8fd0f2" opacity="0.22"/><circle cx="773.5" cy="1161" r="22" fill="#8fd0f2" opacity="0.22"/><circle cx="868.5" cy="1165.8" r="25" fill="#8fd0f2" opacity="0.22"/><circle cx="953.5" cy="1166.7" r="20" fill="#8fd0f2" opacity="0.22"/><circle cx="1003.5" cy="1175.2" r="14" fill="#8fd0f2" opacity="0.22"/><circle cx="750.5" cy="1166.7" r="10" fill="url(#bub)"/><circle cx="697.5" cy="1181.9" r="10" fill="url(#bub)"/><circle cx="792.1" cy="1181.9" r="13" fill="url(#bub)"/><circle cx="905.1" cy="1181.9" r="12" fill="url(#bub)"/><circle cx="706.5" cy="1210.4" r="9" fill="url(#bub)"/><circle cx="836.5" cy="1209" r="13" fill="url(#bub)"/><circle cx="986.5" cy="1203.5" r="12" fill="url(#bub)"/><circle cx="754.9" cy="1223.7" r="8" fill="url(#bub)"/><circle cx="918" cy="1228" r="8" fill="url(#bub)"/><circle cx="857.5" cy="1237.5" r="8" fill="url(#bub)"/><circle cx="827.9" cy="1249.3" r="8" fill="url(#bub)"/><circle cx="680.5" cy="1244.2" r="7" fill="url(#bub)"/><circle cx="989.5" cy="1256.5" r="7" fill="url(#bub)"/><circle cx="760.5" cy="1270.1" r="7" fill="url(#bub)"/><circle cx="910.5" cy="1271.2" r="7" fill="url(#bub)"/><circle cx="729.2" cy="1271.2" r="4" fill="url(#bub)"/><circle cx="702" cy="1289.1" r="4" fill="url(#bub)"/><circle cx="670.5" cy="1296.8" r="4" fill="url(#bub)"/><circle cx="746.5" cy="1302.5" r="4" fill="url(#bub)"/><circle cx="857.9" cy="1299.7" r="4" fill="url(#bub)"/><circle cx="989.5" cy="1299.7" r="4" fill="url(#bub)"/><circle cx="806.5" cy="1320.3" r="4" fill="url(#bub)"/><circle cx="886.5" cy="1323.1" r="4" fill="url(#bub)"/><circle cx="952.3" cy="1333.9" r="3" fill="url(#bub)"/><circle cx="1000.5" cy="1333.9" r="3" fill="url(#bub)"/><circle cx="763.5" cy="1348.9" r="3" fill="url(#bub)"/><circle cx="825" cy="1354.3" r="3" fill="url(#bub)"/><circle cx="906.5" cy="1348.9" r="3" fill="url(#bub)"/><circle cx="686.3" cy="1381.4" r="2" fill="url(#bub)"/><circle cx="740.5" cy="1388" r="2" fill="url(#bub)"/><circle cx="800.5" cy="1378.5" r="2" fill="url(#bub)"/><circle cx="869.5" cy="1387.1" r="2" fill="url(#bub)"/><circle cx="983.5" cy="1374.8" r="2" fill="url(#bub)"/><circle cx="720.5" cy="1334.8" r="2.5" fill="url(#bub)"/><circle cx="940.5" cy="1363.3" r="2.5" fill="url(#bub)"/><circle cx="850.5" cy="1368.1" r="2" fill="url(#bub)"/><circle cx="670.5" cy="1353.8" r="2" fill="url(#bub)"/></g>
<path d="M729.5,1199.8 C701.5,1228.9 683.5,1296.8 723.5,1379.2" fill="none" stroke="#d6dcf5" stroke-width="4" stroke-linecap="round" opacity="0.85"/><path d="M711.9,1371.4 L723.5,1379.2 L724.5,1365.3" fill="none" stroke="#d6dcf5" stroke-width="4" stroke-linecap="round" stroke-linejoin="round" opacity="0.85"/><path d="M791.5,1345.3 C775.5,1296.8 781.5,1248.3 785.5,1209.5" fill="none" stroke="#d6dcf5" stroke-width="4" stroke-linecap="round" opacity="0.85"/><path d="M791.2,1222.3 L785.5,1209.5 L777.3,1220.8" fill="none" stroke="#d6dcf5" stroke-width="4" stroke-linecap="round" stroke-linejoin="round" opacity="0.85"/><path d="M847.5,1391.9 C849.5,1335.6 823.5,1296.8 837.5,1262.8" fill="none" stroke="#d6dcf5" stroke-width="4" stroke-linecap="round" opacity="0.85"/><path d="M839.3,1276.7 L837.5,1262.8 L826.4,1271.4" fill="none" stroke="#d6dcf5" stroke-width="4" stroke-linecap="round" stroke-linejoin="round" opacity="0.85"/><path d="M893.5,1335.6 C898.5,1287.1 893.5,1248.3 885.5,1207.6" fill="none" stroke="#d6dcf5" stroke-width="4" stroke-linecap="round" opacity="0.85"/><path d="M894.7,1218.1 L885.5,1207.6 L881,1220.8" fill="none" stroke="#d6dcf5" stroke-width="4" stroke-linecap="round" stroke-linejoin="round" opacity="0.85"/><path d="M945.5,1199.8 C988.5,1219.2 998.5,1306.5 963.5,1379.2" fill="none" stroke="#d6dcf5" stroke-width="4" stroke-linecap="round" opacity="0.85"/><path d="M962.4,1365.3 L963.5,1379.2 L975.1,1371.4" fill="none" stroke="#d6dcf5" stroke-width="4" stroke-linecap="round" stroke-linejoin="round" opacity="0.85"/>
<line x1="653.5" y1="1422" x2="1032" y2="1422" stroke="#eef2fb" stroke-width="2.8" stroke-dasharray="13.5 8.5"/>
<path d="M653.5,1161 C654.6,1156.7 656.9,1143.8 660,1135 C663.1,1126.2 667,1114.2 672,1108 C677,1101.8 683.5,1100.2 690,1098 C696.5,1095.8 701.5,1094.7 711,1094.5 C720.5,1094.3 735.7,1097.2 747,1097 C758.3,1096.8 768,1092.3 779,1093 C790,1093.7 799.8,1101.2 813,1101 C826.2,1100.8 843.3,1092.2 858.5,1092 C873.7,1091.8 888.9,1099 904,1100 C919.1,1101 936.1,1098.2 949.4,1098 C962.6,1097.8 974.1,1094.7 983.5,1099 C992.9,1103.3 997.9,1113.7 1006,1124 C1014.1,1134.3 1027.7,1154.8 1032,1161 Z" fill="url(#surf6)"/>
<ellipse cx="700" cy="1110" rx="18" ry="8" fill="#a7d7f0" opacity="0.7"/>
<ellipse cx="745" cy="1105" rx="16" ry="7" fill="#a7d7f0" opacity="0.7"/>
<ellipse cx="800" cy="1108" rx="20" ry="8" fill="#a7d7f0" opacity="0.7"/>
<ellipse cx="905" cy="1106" rx="14" ry="6" fill="#a7d7f0" opacity="0.7"/>
<ellipse cx="940" cy="1104" rx="14" ry="6" fill="#a7d7f0" opacity="0.7"/>
<path d="M688,1146 C690,1132 712,1120 745,1117 C770,1114 800,1116 800,1122 C800,1128 770,1130 760,1136 C770,1140 800,1140 825,1139 C840,1140 848,1147 835,1152 C810,1157 740,1158 700,1155 C690,1153 687,1150 688,1146 Z" fill="#ffffff"/>
<path d="M842,1148 C845,1135 870,1118 905,1111 C940,1106 975,1108 1000,1118 L1031,1160 L1031,1162 L890,1162 C865,1161 845,1158 842,1148 Z" fill="#ffffff"/>
<ellipse cx="720" cy="1152" rx="14" ry="5" fill="#7cc3e8" opacity="0.8"/>
<ellipse cx="775" cy="1151" rx="14" ry="5" fill="#7cc3e8" opacity="0.8"/>
<ellipse cx="820" cy="1150" rx="10" ry="4" fill="#7cc3e8" opacity="0.8"/>
<path d="M653.5,1162 C690,1159 740,1163 790,1160 S850,1161 890,1162" fill="none" stroke="#ffffff" stroke-width="2" opacity="0.8"/>
<path d="M890,1163 L1031,1163" stroke="#bfe0f2" stroke-width="3"/>
<path d="M745,1085 c-12,-6 -12,-16 0,-20 s12,-6 4,-20" fill="none" stroke="#ffffff" stroke-width="3.5" stroke-linecap="round" opacity="0.6"/>
<path d="M805,1078 c-12,-6.8 -12,-18 0,-22.5 s12,-6.8 4,-22.5" fill="none" stroke="#ffffff" stroke-width="3.5" stroke-linecap="round" opacity="0.6"/>
<path d="M890,1082 c-12,-6 -12,-16 0,-20 s12,-6 4,-20" fill="none" stroke="#ffffff" stroke-width="3.5" stroke-linecap="round" opacity="0.6"/>
<path d="M945,1070 c-12,-5.2 -12,-14 0,-17.5 s12,-5.2 4,-17.5" fill="none" stroke="#ffffff" stroke-width="3.5" stroke-linecap="round" opacity="0.6"/>
<path d="M630,1150 C640,1142 650,1140 660,1145" fill="none" stroke="#ffffff" stroke-width="4.5" stroke-linecap="round"/>
<path d="M960,1092 C965,1085 972,1078 978,1075" fill="none" stroke="#ffffff" stroke-width="4.5" stroke-linecap="round"/>
<path d="M675,1118 L670,1108" fill="none" stroke="#ffffff" stroke-width="4.5" stroke-linecap="round"/>
<ellipse cx="677" cy="1112" rx="3" ry="9" fill="#3fa3da" transform="rotate(-25 677 1112)"/>
<ellipse cx="834" cy="1097" rx="3" ry="9" fill="#3fa3da" transform="rotate(25 834 1097)"/>
<ellipse cx="965" cy="1080" rx="3" ry="9" fill="#3fa3da" transform="rotate(40 965 1080)"/>
<rect x="1161" y="1083" width="378" height="365" fill="url(#c7F)"/>
<rect x="1161" y="1345.5" width="378" height="102.5" fill="url(#c7B)"/>
<rect x="1161" y="1083" width="15" height="365" fill="#0a2a70" opacity="0.07"/>
<rect x="1525" y="1083" width="14" height="262.5" fill="#7cc3f0" opacity="0.07"/>
<path d="M1515,1345.5 L1539,1345.5 L1539,1448 L1534,1448 Z" fill="#2b4f93" opacity="0.45"/>
<path d="M1270,1095 C1300,1078 1325,1070 1346,1070 C1365,1070 1390,1078 1422,1095 Z" fill="#1e96d5"/>
<g opacity="0.75"><circle cx="1201" cy="1098.6" r="20" fill="#8fd0f2" opacity="0.22"/><circle cx="1281" cy="1091" r="22" fill="#8fd0f2" opacity="0.22"/><circle cx="1376" cy="1095.8" r="25" fill="#8fd0f2" opacity="0.22"/><circle cx="1461" cy="1096.7" r="20" fill="#8fd0f2" opacity="0.22"/><circle cx="1511" cy="1105.2" r="14" fill="#8fd0f2" opacity="0.22"/><circle cx="1258" cy="1096.7" r="9" fill="url(#bub)"/><circle cx="1205" cy="1111.9" r="9" fill="url(#bub)"/><circle cx="1299.6" cy="1111.9" r="11.7" fill="url(#bub)"/><circle cx="1412.6" cy="1111.9" r="10.8" fill="url(#bub)"/><circle cx="1214" cy="1140.4" r="8.1" fill="url(#bub)"/><circle cx="1344" cy="1139" r="11.7" fill="url(#bub)"/><circle cx="1494" cy="1133.5" r="10.8" fill="url(#bub)"/><circle cx="1262.4" cy="1153.7" r="7.2" fill="url(#bub)"/><circle cx="1425.5" cy="1158" r="7.2" fill="url(#bub)"/><circle cx="1365" cy="1167.5" r="7.2" fill="url(#bub)"/><circle cx="1335.4" cy="1179.3" r="7.2" fill="url(#bub)"/><circle cx="1188" cy="1174.2" r="6.3" fill="url(#bub)"/><circle cx="1497" cy="1186.5" r="6.3" fill="url(#bub)"/><circle cx="1268" cy="1200.1" r="6.3" fill="url(#bub)"/><circle cx="1418" cy="1201.2" r="6.3" fill="url(#bub)"/><circle cx="1236.7" cy="1201.2" r="3.6" fill="url(#bub)"/><circle cx="1209.5" cy="1219.1" r="3.6" fill="url(#bub)"/><circle cx="1178" cy="1226.8" r="3.6" fill="url(#bub)"/><circle cx="1254" cy="1232.5" r="3.6" fill="url(#bub)"/><circle cx="1365.4" cy="1229.7" r="3.6" fill="url(#bub)"/><circle cx="1497" cy="1229.7" r="3.6" fill="url(#bub)"/><circle cx="1314" cy="1250.3" r="3.6" fill="url(#bub)"/><circle cx="1394" cy="1253.1" r="3.6" fill="url(#bub)"/><circle cx="1459.8" cy="1263.9" r="2.7" fill="url(#bub)"/><circle cx="1508" cy="1263.9" r="2.7" fill="url(#bub)"/><circle cx="1271" cy="1278.9" r="2.7" fill="url(#bub)"/><circle cx="1332.5" cy="1284.3" r="2.7" fill="url(#bub)"/><circle cx="1414" cy="1278.9" r="2.7" fill="url(#bub)"/><circle cx="1193.8" cy="1311.4" r="1.8" fill="url(#bub)"/><circle cx="1248" cy="1318" r="1.8" fill="url(#bub)"/><circle cx="1308" cy="1308.5" r="1.8" fill="url(#bub)"/><circle cx="1377" cy="1317.1" r="1.8" fill="url(#bub)"/><circle cx="1491" cy="1304.8" r="1.8" fill="url(#bub)"/><circle cx="1228" cy="1264.8" r="2.2" fill="url(#bub)"/><circle cx="1448" cy="1293.3" r="2.2" fill="url(#bub)"/><circle cx="1358" cy="1298.1" r="1.8" fill="url(#bub)"/><circle cx="1178" cy="1283.8" r="1.8" fill="url(#bub)"/></g>
<path d="M1299,1271.5 C1283,1224 1289,1176.5 1293,1138.5" fill="none" stroke="#d6dcf5" stroke-width="4" stroke-linecap="round" opacity="0.85"/><path d="M1298.7,1151.3 L1293,1138.5 L1284.8,1149.8" fill="none" stroke="#d6dcf5" stroke-width="4" stroke-linecap="round" stroke-linejoin="round" opacity="0.85"/><path d="M1355,1317.1 C1357,1262 1331,1224 1345,1190.8" fill="none" stroke="#d6dcf5" stroke-width="4" stroke-linecap="round" opacity="0.85"/><path d="M1346.7,1204.6 L1345,1190.8 L1333.8,1199.2" fill="none" stroke="#d6dcf5" stroke-width="4" stroke-linecap="round" stroke-linejoin="round" opacity="0.85"/><path d="M1401,1262 C1406,1214.5 1401,1176.5 1393,1136.6" fill="none" stroke="#d6dcf5" stroke-width="4" stroke-linecap="round" opacity="0.85"/><path d="M1402.2,1147.1 L1393,1136.6 L1388.5,1149.9" fill="none" stroke="#d6dcf5" stroke-width="4" stroke-linecap="round" stroke-linejoin="round" opacity="0.85"/><path d="M1453,1129 C1496,1148 1506,1233.5 1471,1304.8" fill="none" stroke="#d6dcf5" stroke-width="4" stroke-linecap="round" opacity="0.85"/><path d="M1470.1,1290.8 L1471,1304.8 L1482.6,1297" fill="none" stroke="#d6dcf5" stroke-width="4" stroke-linecap="round" stroke-linejoin="round" opacity="0.85"/>
<path d="M1246,1110 C1215,1130 1205,1170 1212,1210" fill="none" stroke="#d6dcf5" stroke-width="4" opacity="0.85"/>
<line x1="1161" y1="1345.5" x2="1539" y2="1345.5" stroke="#eef2fb" stroke-width="2.8" stroke-dasharray="13.5 8.5"/>
<ellipse cx="1224" cy="1098" rx="31" ry="9" fill="#62b7e4" opacity="0.55"/>
<ellipse cx="1345" cy="1086" rx="60" ry="12" fill="#62b7e4" opacity="0.6"/>
<ellipse cx="1500" cy="1100" rx="38" ry="9" fill="#62b7e4" opacity="0.35"/>
<path d="M1160.6,1083 L1211.6,1007.3 C1260,1002 1300,997 1331,998.7 C1380,1000 1430,1005 1482.6,1007.3 L1539,1087.6 L1411,1083 C1390,1072 1365,1065 1346,1064.8 C1325,1065 1300,1072 1281,1083 L1160.6,1083 Z" fill="url(#ice7g)"/>
<path d="M1160.6,1083 L1281,1083 C1300,1072 1325,1065 1346,1064.8 C1365,1065 1390,1072 1411,1083 L1539,1087.6 L1539,1093 L1411,1092 C1390,1081 1365,1074 1346,1073.8 C1325,1074 1300,1081 1281,1092 L1160.6,1092 Z" fill="#cfe6f3"/>
<path d="M1160.6,1092 L1281,1092 C1300,1081 1325,1074 1346,1073.8 C1365,1074 1390,1081 1411,1092 L1539,1093" fill="none" stroke="#ffffff" stroke-width="1.5" opacity="0.8"/>
<path d="M1274,1006 L1268,1020 L1258,1040 L1256,1083" fill="none" stroke="#88c6e6" stroke-width="1.8" stroke-linecap="round" stroke-linejoin="round" opacity="0.75"/>
<path d="M1276,1008 L1300,1012 L1312,1013" fill="none" stroke="#88c6e6" stroke-width="1.8" stroke-linecap="round" stroke-linejoin="round" opacity="0.75"/>
<path d="M1341,1009 L1380,1008 L1405,1004 L1392,1024 L1385,1040" fill="none" stroke="#88c6e6" stroke-width="1.8" stroke-linecap="round" stroke-linejoin="round" opacity="0.75"/>
<path d="M1405,1004 L1412,1030 L1410,1050" fill="none" stroke="#88c6e6" stroke-width="1.8" stroke-linecap="round" stroke-linejoin="round" opacity="0.75"/>
<path d="M1420,1008 L1415,1030 L1412,1047" fill="none" stroke="#88c6e6" stroke-width="1.8" stroke-linecap="round" stroke-linejoin="round" opacity="0.75"/>
<path d="M1200,1025 L1215,1028 L1232,1032" fill="none" stroke="#88c6e6" stroke-width="1.8" stroke-linecap="round" stroke-linejoin="round" opacity="0.75"/>
<path d="M1221,1050 L1210,1065 L1190,1083" fill="none" stroke="#88c6e6" stroke-width="1.8" stroke-linecap="round" stroke-linejoin="round" opacity="0.75"/>
<path d="M1292,1039 L1310,1040 L1330,1045 L1340,1060 L1343,1070" fill="none" stroke="#88c6e6" stroke-width="1.8" stroke-linecap="round" stroke-linejoin="round" opacity="0.75"/>
<path d="M1295,1065 L1280,1075" fill="none" stroke="#88c6e6" stroke-width="1.8" stroke-linecap="round" stroke-linejoin="round" opacity="0.75"/>
<path d="M1325,1035 L1360,1037" fill="none" stroke="#88c6e6" stroke-width="1.8" stroke-linecap="round" stroke-linejoin="round" opacity="0.75"/>
<path d="M1440,1020 L1470,1024 L1490,1018" fill="none" stroke="#88c6e6" stroke-width="1.8" stroke-linecap="round" stroke-linejoin="round" opacity="0.75"/>
<path d="M1423,1055 L1445,1058 L1465,1065 L1475,1085" fill="none" stroke="#88c6e6" stroke-width="1.8" stroke-linecap="round" stroke-linejoin="round" opacity="0.75"/>
<path d="M1458,1049 L1470,1065" fill="none" stroke="#88c6e6" stroke-width="1.8" stroke-linecap="round" stroke-linejoin="round" opacity="0.75"/>
<path d="M1500,1040 L1512,1070 L1520,1085" fill="none" stroke="#88c6e6" stroke-width="1.8" stroke-linecap="round" stroke-linejoin="round" opacity="0.75"/>
<path d="M1454,1074 L1470,1080" fill="none" stroke="#88c6e6" stroke-width="1.8" stroke-linecap="round" stroke-linejoin="round" opacity="0.75"/>
<path d="M306.7,749 C309,800 318,870 333,922 L313,931 L370,954 L393.5,897 L372.6,905 C358,860 340,800 333.4,748.4 Z" fill="#ffffff"/>
<path d="M526.5,1154.8 C580,1205 650,1255 723,1279.5 L734,1254 L763.4,1319 L696.8,1348.4 L707,1323.6 C630,1300 560,1240 507,1175 Z" fill="#ffffff"/>
<path d="M946.5,1305.6 C1040,1300 1130,1280 1203.5,1239 L1184,1205.5 L1271.2,1228 L1246.7,1315.4 L1230,1284 C1140,1330 1040,1340 946.5,1339 Z" fill="#ffffff"/>
<path d="M1001.7,580.4 A296,296 0 0 0 1007.5,1077.5 L998.2,1101.7 L1117.2,1097.4 L1053.4,995.1 L1039.8,1016.2 A245,245 0 0 1 1022,602.7 Z" fill="#ffffff"/>
<path d="M1495.4,987.4 A416,416 0 0 0 1406.2,628.2 L1425.9,607.2 L1322.3,581 L1352.5,683.2 L1370.8,666.2 A319,319 0 0 1 1415.4,963.8 Z" fill="#ffffff"/>
<path d="M1530.4,1016.8 C1542.2,1008.9 1580,990.6 1601.3,969.2 C1622.6,947.8 1644,914.4 1658,888.2 C1672,862 1680.8,824.9 1685.4,812.2 L1668.2,809.1 L1714.7,744.3 L1748.8,817.2 L1731,816.2 C1726.3,827.9 1717.5,862.6 1702.6,886.1 C1687.7,909.6 1668.8,932.2 1641.8,957 C1614.8,981.8 1557.4,1022 1540.5,1035 Z" fill="#ffffff" opacity="0.47"/>
<path d="M798.7,120.9 C700,127 598,168 517,228 C455,274 420,330 401,373 L389,362 L392.6,411 L435,385 L423,383 C440,339 471,292 526,245 C605,184 702,133 798.7,120.9 Z" fill="#352f6d"/>
<path id="ptp" d="M550,296 C600,249 670,199 815,166" fill="none"/>
<text font-size="44.5" font-weight="bold" fill="#352f6d"><textPath href="#ptp">pokles tlaku</textPath></text>
<path d="M534.5,731.3 L474.5,731.3 M488.4,721.5 L474.5,731.3 L488.4,741.1" fill="none" stroke="#231f20" stroke-width="2.9" stroke-linecap="butt" stroke-linejoin="miter"/>
<path d="M1420.5,368.6 L1321.8,508.8 M1321.8,491.8 L1321.8,508.8 L1337.8,503" fill="none" stroke="#231f20" stroke-width="2.9" stroke-linecap="butt" stroke-linejoin="miter"/>
<path d="M348,1006.4 L408.5,1085.7 M392.3,1080.5 L408.5,1085.7 L407.8,1068.7" fill="none" stroke="#231f20" stroke-width="2.9" stroke-linecap="butt" stroke-linejoin="miter"/>
<path d="M795.3,968.6 L945.2,1132.7 M928.6,1129 L945.2,1132.7 L943,1115.8" fill="none" stroke="#231f20" stroke-width="2.8" stroke-linecap="butt" stroke-linejoin="miter"/>
<path d="M704,1057.8 L720.3,1122.6 M707.4,1111.5 L720.3,1122.6 L726.4,1106.7" fill="none" stroke="#231f20" stroke-width="2.9" stroke-linecap="butt" stroke-linejoin="miter"/>
<path d="M1595,1074 L1476,1052 M1491.5,1044.9 L1476,1052 L1487.9,1064.1" fill="none" stroke="#231f20" stroke-width="2.9" stroke-linecap="butt" stroke-linejoin="miter"/>
<path d="M1598,1207 L1346,1026 M1363,1026.2 L1346,1026 L1351.6,1042" fill="none" stroke="#231f20" stroke-width="2.9" stroke-linecap="butt" stroke-linejoin="miter"/>
<path d="M1598,1368 L1358,1088 M1374.5,1092.2 L1358,1088 L1359.7,1104.9" fill="none" stroke="#231f20" stroke-width="2.9" stroke-linecap="butt" stroke-linejoin="miter"/>
<rect x="79.3" y="778.2" width="179.7" height="73.8" rx="36.9" fill="#e9e8f3"/><rect x="120.2" y="815" width="97.7" height="79" rx="37" fill="#e9e8f3"/><path d="M217.9,852 L225.9,852 L224.3,852.2 L222.8,852.6 L221.5,853.3 L220.2,854.3 L219.2,855.6 L218.5,856.9 L218.1,858.4 L217.9,860 Z" fill="#e9e8f3"/>
<rect x="1100.4" y="788.9" width="163.1" height="71" rx="28" fill="#e9e8f3"/><rect x="1008.2" y="831.9" width="347.5" height="74.1" rx="28" fill="#e9e8f3"/><rect x="960.9" y="878" width="442.4" height="72.8" rx="28" fill="#e9e8f3"/><path d="M1100.4,831.9 L1093.4,831.9 L1094.8,831.8 L1096.1,831.4 L1097.3,830.7 L1098.3,829.8 L1099.2,828.8 L1099.9,827.6 L1100.3,826.3 L1100.4,824.9 Z" fill="#e9e8f3"/><path d="M1263.5,831.9 L1270.5,831.9 L1269.1,831.8 L1267.8,831.4 L1266.6,830.7 L1265.6,829.8 L1264.7,828.8 L1264,827.6 L1263.6,826.3 L1263.5,824.9 Z" fill="#e9e8f3"/><path d="M1008.2,878 L1001.2,878 L1002.6,877.9 L1003.9,877.5 L1005.1,876.8 L1006.1,875.9 L1007,874.9 L1007.7,873.7 L1008.1,872.4 L1008.2,871 Z" fill="#e9e8f3"/><path d="M1355.7,878 L1362.7,878 L1361.3,877.9 L1360,877.5 L1358.8,876.8 L1357.8,875.9 L1356.9,874.9 L1356.2,873.7 L1355.8,872.4 L1355.7,871 Z" fill="#e9e8f3"/>
<rect x="1578.5" y="556.7" width="135.2" height="72.9" rx="30" fill="#e9e8f3"/><rect x="1512.4" y="599.6" width="263.2" height="79.4" rx="30" fill="#e9e8f3"/><rect x="1497.9" y="649" width="293" height="69.9" rx="30" fill="#e9e8f3"/><path d="M1578.5,599.6 L1571.5,599.6 L1572.9,599.5 L1574.2,599.1 L1575.4,598.4 L1576.4,597.5 L1577.3,596.5 L1578,595.3 L1578.4,594 L1578.5,592.6 Z" fill="#e9e8f3"/><path d="M1713.7,599.6 L1720.7,599.6 L1719.3,599.5 L1718,599.1 L1716.8,598.4 L1715.8,597.5 L1714.9,596.5 L1714.2,595.3 L1713.8,594 L1713.7,592.6 Z" fill="#e9e8f3"/>
<rect x="199.7" y="1447.7" width="296" height="84.3" rx="35" fill="#e9e8f3"/><rect x="192.3" y="1497" width="314.5" height="66" rx="33" fill="#e9e8f3"/>
<rect x="640.4" y="1469" width="405.9" height="72" rx="35" fill="#e9e8f3"/><rect x="682.7" y="1506" width="334.6" height="78" rx="35" fill="#e9e8f3"/><path d="M682.7,1541 L674.7,1541 L676.3,1541.2 L677.8,1541.6 L679.1,1542.3 L680.4,1543.3 L681.4,1544.6 L682.1,1545.9 L682.5,1547.4 L682.7,1549 Z" fill="#e9e8f3"/>
<rect x="1267.4" y="1359.8" width="162.3" height="70.7" rx="28" fill="#e9e8f3"/><rect x="1174.9" y="1402.5" width="347" height="74.1" rx="28" fill="#e9e8f3"/><rect x="1119.9" y="1448.6" width="456.5" height="72.4" rx="28" fill="#e9e8f3"/><path d="M1267.4,1402.5 L1260.4,1402.5 L1261.8,1402.4 L1263.1,1402 L1264.3,1401.3 L1265.3,1400.4 L1266.2,1399.4 L1266.9,1398.2 L1267.3,1396.9 L1267.4,1395.5 Z" fill="#e9e8f3"/><path d="M1429.7,1402.5 L1436.7,1402.5 L1435.3,1402.4 L1434,1402 L1432.8,1401.3 L1431.8,1400.4 L1430.9,1399.4 L1430.2,1398.2 L1429.8,1396.9 L1429.7,1395.5 Z" fill="#e9e8f3"/><path d="M1174.9,1448.6 L1167.9,1448.6 L1169.3,1448.5 L1170.6,1448.1 L1171.8,1447.4 L1172.8,1446.5 L1173.7,1445.5 L1174.4,1444.3 L1174.8,1443 L1174.9,1441.6 Z" fill="#e9e8f3"/><path d="M1521.9,1448.6 L1528.9,1448.6 L1527.5,1448.5 L1526.2,1448.1 L1525,1447.4 L1524,1446.5 L1523.1,1445.5 L1522.4,1444.3 L1522,1443 L1521.9,1441.6 Z" fill="#e9e8f3"/>
<text x="168" y="825.3" font-size="36.7" fill="#2d2a6c" text-anchor="middle" stroke="#2d2a6c" stroke-width="0.45">výrazný</text>
<text x="168" y="869.6" font-size="36.7" fill="#2d2a6c" text-anchor="middle" stroke="#2d2a6c" stroke-width="0.45">var</text>
<text x="1182" y="835.4" font-size="36.7" fill="#2d2a6c" text-anchor="middle" stroke="#2d2a6c" stroke-width="0.45">nárůst</text>
<text x="1182" y="880" font-size="36.7" fill="#2d2a6c" text-anchor="middle" stroke="#2d2a6c" stroke-width="0.45">intenzity varu vody</text>
<text x="1182" y="924.6" font-size="36.7" fill="#2d2a6c" text-anchor="middle" stroke="#2d2a6c" stroke-width="0.45">a evaporačního chlazení</text>
<text x="1645" y="602.6" font-size="36.7" fill="#2d2a6c" text-anchor="middle" stroke="#2d2a6c" stroke-width="0.45">vznik</text>
<text x="1645" y="647" font-size="36.7" fill="#2d2a6c" text-anchor="middle" stroke="#2d2a6c" stroke-width="0.45">ledové krusty</text>
<text x="1645" y="692" font-size="36.7" fill="#2d2a6c" text-anchor="middle" stroke="#2d2a6c" stroke-width="0.45">zabraňuje varu</text>
<text x="349" y="1493.8" font-size="36.7" fill="#2d2a6c" text-anchor="middle" stroke="#2d2a6c" stroke-width="0.45">pokles teploty</text>
<text x="349" y="1538.6" font-size="36.7" fill="#2d2a6c" text-anchor="middle" stroke="#2d2a6c" stroke-width="0.45">kvůli varu vody</text>
<text x="843.5" y="1515.8" font-size="36.7" fill="#2d2a6c" text-anchor="middle" stroke="#2d2a6c" stroke-width="0.45">pokračující var vody</text>
<text x="843.5" y="1560" font-size="36.7" fill="#2d2a6c" text-anchor="middle" stroke="#2d2a6c" stroke-width="0.45">a výstup bublin</text>
<text x="1348.5" y="1405" font-size="36.7" fill="#2d2a6c" text-anchor="middle" stroke="#2d2a6c" stroke-width="0.45">pokles</text>
<text x="1348.5" y="1451" font-size="36.7" fill="#2d2a6c" text-anchor="middle" stroke="#2d2a6c" stroke-width="0.45">intenzity varu vody</text>
<text x="1348.5" y="1494" font-size="36.7" fill="#2d2a6c" text-anchor="middle" stroke="#2d2a6c" stroke-width="0.45">a evaporačního chlazení</text>
<text x="591.5" y="545" font-size="59.1" fill="#383270" text-anchor="start" font-weight="bold">nízký tlak</text>
<text x="589.5" y="592.6" font-size="40.9" fill="#383270" text-anchor="start" font-weight="bold">(pod 20 mbar)</text>
<text x="678" y="694.6" font-size="36.7" fill="#231f20" text-anchor="middle" stroke="#231f20" stroke-width="0.45">hranice</text>
<text x="682" y="739" font-size="36.7" fill="#231f20" text-anchor="middle" stroke="#231f20" stroke-width="0.45">hydrostatického</text>
<text x="682" y="783" font-size="36.7" fill="#231f20" text-anchor="middle" stroke="#231f20" stroke-width="0.45">tlaku zabraňující</text>
<text x="682" y="828" font-size="36.7" fill="#231f20" text-anchor="middle" stroke="#231f20" stroke-width="0.45">varu</text>
<text x="1041.5" y="378.7" font-size="36.7" fill="#231f20" text-anchor="start" stroke="#231f20" stroke-width="0.45">výzdvih</text>
<text x="1228.9" y="378.7" font-size="36.7" fill="#231f20" text-anchor="start" stroke="#231f20" stroke-width="0.45">pokles</text>
<text x="1441" y="347.5" font-size="36.7" fill="#231f20" text-anchor="start" stroke="#231f20" stroke-width="0.45">vznik trhlin</text>
<text x="1441" y="392" font-size="36.7" fill="#231f20" text-anchor="start" stroke="#231f20" stroke-width="0.45">a jejich otevírání</text>
<text x="99.6" y="950" font-size="36.7" fill="#231f20" text-anchor="start" stroke="#231f20" stroke-width="0.45">tvorba</text>
<text x="99.6" y="994" font-size="36.7" fill="#231f20" text-anchor="start" stroke="#231f20" stroke-width="0.45">ledových krystalů</text>
<text x="627" y="972.7" font-size="36.7" fill="#231f20" text-anchor="start" stroke="#231f20" stroke-width="0.45">růst ledu</text>
<text x="568" y="1037.5" font-size="36.7" fill="#231f20" text-anchor="start" stroke="#231f20" stroke-width="0.45">volná hladina</text>
<text x="1614" y="1089" font-size="36.7" fill="#231f20" text-anchor="start" stroke="#231f20" stroke-width="0.45">z většiny</text>
<text x="1614" y="1134" font-size="36.7" fill="#231f20" text-anchor="start" stroke="#231f20" stroke-width="0.45">zmrzlý povrch</text>
<text x="1614" y="1218" font-size="36.7" fill="#231f20" text-anchor="start" stroke="#231f20" stroke-width="0.45">deformace</text>
<text x="1614" y="1262" font-size="36.7" fill="#231f20" text-anchor="start" stroke="#231f20" stroke-width="0.45">ledu</text>
<text x="1614" y="1377.5" font-size="36.7" fill="#231f20" text-anchor="start" stroke="#231f20" stroke-width="0.45">hromadění</text>
<text x="1614" y="1421.3" font-size="36.7" fill="#231f20" text-anchor="start" stroke="#231f20" stroke-width="0.45">plynu</text>
<text x="1614" y="1465" font-size="36.7" fill="#231f20" text-anchor="start" stroke="#231f20" stroke-width="0.45">pod ledem</text></svg>
</body></html>
